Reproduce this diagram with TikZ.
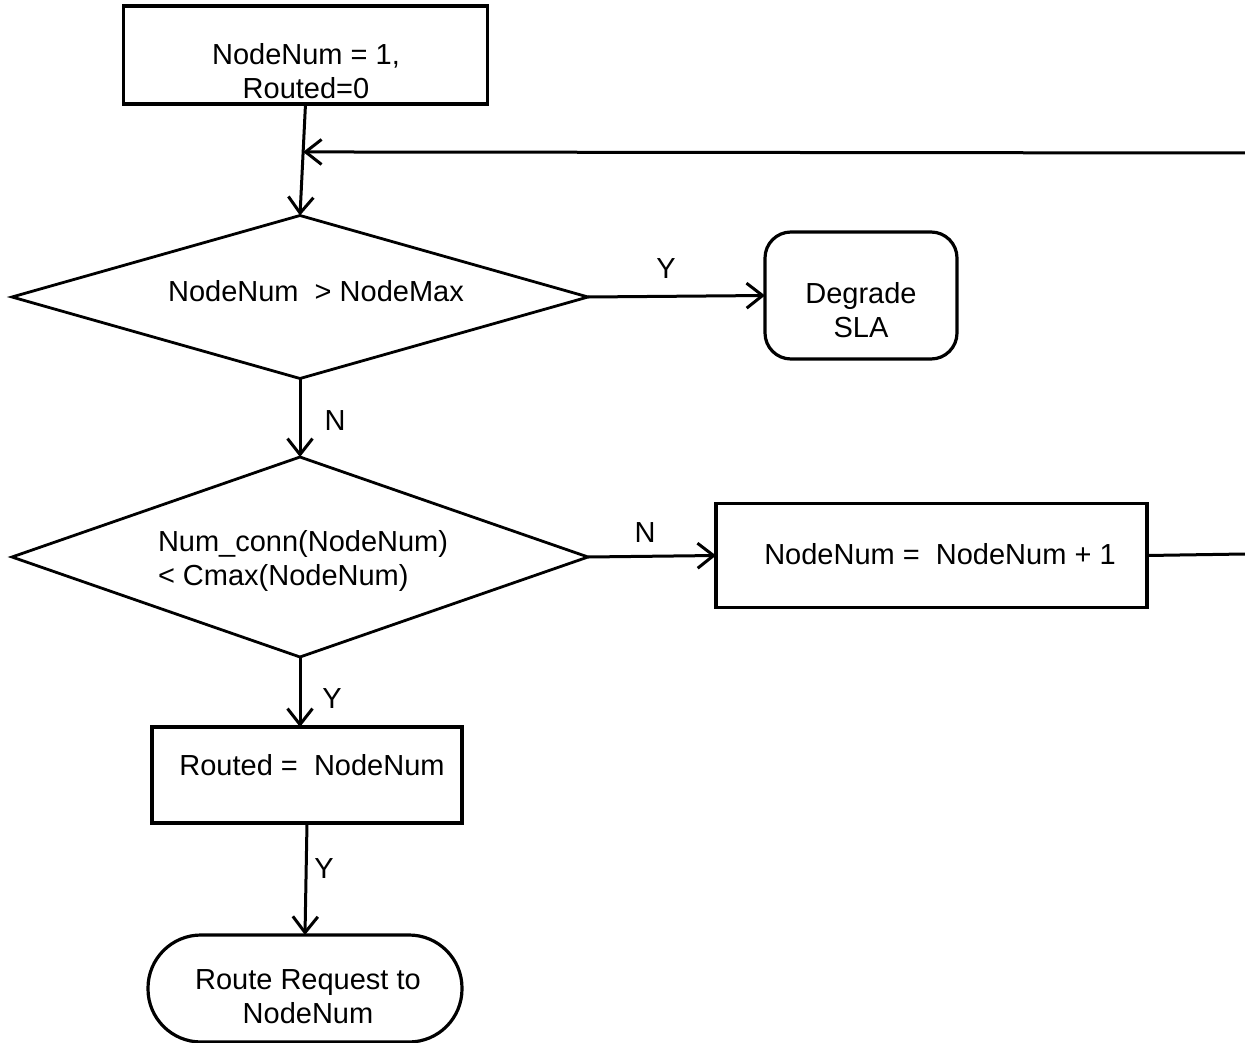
\documentclass[tikz,border=0pt]{standalone}
\usepackage{fontspec}
\setmainfont{Liberation Sans}
\usetikzlibrary{shapes.geometric,arrows.meta,calc}

\tikzset{
  every node/.style={inner sep=0pt, outer sep=0pt, font=\fontsize{29}{34}\selectfont},
  flowline/.style={line width=3pt, line cap=round},
  arr/.style={flowline, -{Straight Barb[length=16pt,width=25pt,line join=miter]}},
  procbox/.style={draw, line width=3.2pt, rectangle},
  roundbox/.style={draw, line width=3.2pt, rectangle, rounded corners=26pt},
  termbox/.style={draw, line width=3.2pt, rectangle, rounded corners=53pt},
  decision/.style={draw, line width=2.8pt, diamond},
  lbl/.style={align=center},
}

\begin{document}
\begin{tikzpicture}[x=1pt,y=-1pt]
  \useasboundingbox (0,0) rectangle (1245,1043);

  % shapes
  \node[procbox, minimum width=364pt, minimum height=98pt] (init) at (305.5,55) {};
  \node[decision, minimum width=576pt, minimum height=163pt] (d1) at (300,297) {};
  \node[roundbox, minimum width=192pt, minimum height=127pt] (degrade) at (861,295.5) {};
  \node[decision, minimum width=576pt, minimum height=200pt] (d2) at (300,557) {};
  \node[procbox, minimum width=431pt, minimum height=104pt] (inc) at (931.5,555.5) {};
  \node[procbox, minimum width=310pt, minimum height=96pt] (routed) at (307,775) {};
  \node[termbox, minimum width=314pt, minimum height=107pt] (term) at (305,988.5) {};

  % texts
  \node[lbl] (init-t) at (306,71.5) {NodeNum = 1,\\Routed=0};
  \node (d1-t) at (316,291) {NodeNum~~> NodeMax};
  \node[lbl] (degrade-t) at (861,310) {Degrade\\SLA};
  \node[align=left, anchor=west] (d2-t) at (158,561) {Num\_conn(NodeNum)\\< Cmax(NodeNum)};
  \node (inc-t) at (940,554) {NodeNum =~~NodeNum + 1};
  \node (routed-t) at (312,765) {Routed =~~NodeNum};
  \node[lbl] (term-t) at (308,997) {Route Request to\\NodeNum};

  % branch labels
  \node (y1) at (666,269) {Y};
  \node (n1) at (335,421) {N};
  \node (n2) at (645,533) {N};
  \node (y2) at (332,699) {Y};
  \node (y3) at (324,869) {Y};

  % loop-back ends
  \coordinate (merge) at ($(init.south)!0.43!(d1.north)$);
  \coordinate (loopR) at (1245,153);
  \coordinate (incR) at (1245,554);

  % connectors
  \draw[arr] (init.south) -- (d1.north);
  \draw[arr] (loopR) -- (merge);
  \draw[arr] (d1.east) -- (degrade.west);
  \draw[arr] (d1.south) -- (d2.north);
  \draw[arr] (d2.east) -- (inc.west);
  \draw[flowline] (inc.east) -- (incR);
  \draw[arr] (d2.south) -- (d2.south |- routed.north);
  \draw[arr] (routed.south) -- (term.north);
\end{tikzpicture}
\end{document}
